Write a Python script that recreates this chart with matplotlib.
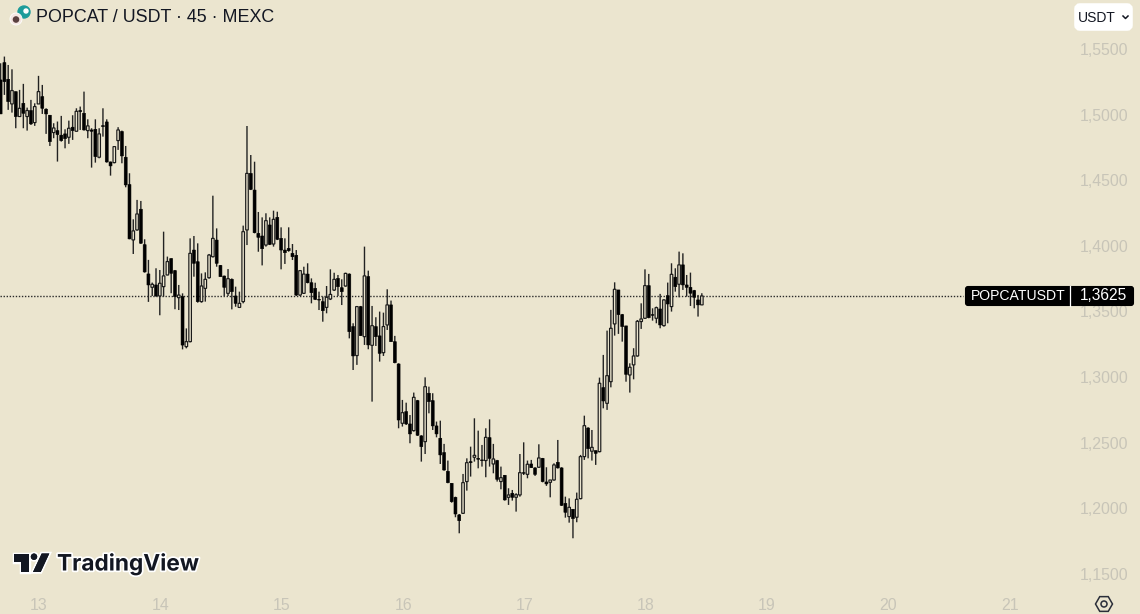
import matplotlib
matplotlib.use("Agg")
import matplotlib.pyplot as plt
import matplotlib.patheffects as pe
from matplotlib.patches import Circle, FancyBboxPatch, Polygon
import numpy as np

BG = "#EBE5CF"
GREY = "#C8C5B8"
INK = "#131722"

# 45 minute candles
opens = [
    1.5264, 1.5396, 1.5269, 1.5081, 1.5175, 1.4985, 1.5086, 1.4985, 1.5031, 1.4939,
    1.5081, 1.5137, 1.5041, 1.4995, 1.4863, 1.4878, 1.4843, 1.4853, 1.4827, 1.4904,
    1.4873, 1.5031, 1.5010, 1.4878, 1.4883, 1.4888, 1.4675, 1.4916, 1.4944, 1.4639,
    1.4634, 1.4802, 1.4871, 1.4675, 1.4467, 1.4045, 1.4121, 1.4279, 1.4009, 1.3786,
    1.3684, 1.3702, 1.3618, 1.3689, 1.3778, 1.3903, 1.3811, 1.3605, 1.3613, 1.3232,
    1.3270, 1.3968, 1.3879, 1.3575, 1.3676, 1.3757, 1.3917, 1.4044, 1.3851, 1.3770,
    1.3638, 1.3745, 1.3618, 1.3531, 1.3575, 1.4121, 1.4552, 1.4425, 1.4095, 1.4075,
    1.4006, 1.4159, 1.4014, 1.4217, 1.4057, 1.3968, 1.3981, 1.3943, 1.3928, 1.3625,
    1.3638, 1.3785, 1.3719, 1.3676, 1.3592, 1.3575, 1.3531, 1.3595, 1.3663, 1.3752,
    1.3681, 1.3694, 1.3785, 1.3385, 1.3164, 1.3537, 1.3308, 1.3766, 1.3242, 1.3385,
    1.3314, 1.3186, 1.3397, 1.3550, 1.3270, 1.3100, 1.2648, 1.2737, 1.2643, 1.2592,
    1.2821, 1.2552, 1.2508, 1.2877, 1.2821, 1.2628, 1.2534, 1.2425, 1.2282, 1.2191,
    1.2084, 1.1950, 1.1962, 1.2204, 1.2356, 1.2389, 1.2381, 1.2369, 1.2364, 1.2539,
    1.2338, 1.2364, 1.2204, 1.2252, 1.2084, 1.2115, 1.2084, 1.2102, 1.2272, 1.2259,
    1.2338, 1.2308, 1.2313, 1.2381, 1.2201, 1.2198, 1.2216, 1.2351, 1.2308, 1.2038,
    1.1937, 1.1993, 1.1932, 1.2074, 1.2394, 1.2612, 1.2435, 1.2440, 1.2432, 1.2920,
    1.2800, 1.2965, 1.3405, 1.3664, 1.3476, 1.3390, 1.3016, 1.3093, 1.3161, 1.3423,
    1.3448, 1.3697, 1.3476, 1.3448, 1.3519, 1.3392, 1.3621, 1.3537, 1.3761, 1.3707,
    1.3855, 1.3702, 1.3684, 1.3659, 1.3588, 1.3550,
]
highs = [
    1.5391, 1.5442, 1.5378, 1.5345, 1.5175, 1.5188, 1.5234, 1.5053, 1.5112, 1.5086,
    1.5295, 1.5226, 1.5048, 1.4997, 1.4934, 1.4947, 1.4990, 1.4888, 1.4954, 1.4995,
    1.5048, 1.5061, 1.5175, 1.4964, 1.4896, 1.4964, 1.4896, 1.5048, 1.4964, 1.4642,
    1.4756, 1.4904, 1.4878, 1.4761, 1.4553, 1.4202, 1.4350, 1.4342, 1.4050, 1.3893,
    1.3720, 1.3829, 1.3816, 1.4108, 1.3918, 1.3905, 1.3816, 1.3702, 1.3638, 1.3371,
    1.4057, 1.4075, 1.4019, 1.3790, 1.3798, 1.3938, 1.4382, 1.4133, 1.3854, 1.3773,
    1.3823, 1.3752, 1.3689, 1.3651, 1.4154, 1.4913, 1.4692, 1.4641, 1.4258, 1.4217,
    1.4248, 1.4217, 1.4268, 1.4260, 1.4141, 1.4057, 1.4141, 1.4014, 1.3968, 1.3816,
    1.3841, 1.3867, 1.3752, 1.3719, 1.3651, 1.3613, 1.3694, 1.3821, 1.3795, 1.3778,
    1.3745, 1.3795, 1.3790, 1.3410, 1.3542, 1.3542, 1.3994, 1.3811, 1.3542, 1.3456,
    1.3499, 1.3491, 1.3669, 1.3583, 1.3314, 1.3105, 1.2826, 1.2805, 1.2711, 1.2882,
    1.2826, 1.2557, 1.2998, 1.2927, 1.2877, 1.2661, 1.2668, 1.2491, 1.2364, 1.2191,
    1.2089, 1.1957, 1.2262, 1.2381, 1.2470, 1.2686, 1.2592, 1.2483, 1.2610, 1.2678,
    1.2491, 1.2369, 1.2318, 1.2254, 1.2153, 1.2140, 1.2115, 1.2414, 1.2503, 1.2364,
    1.2369, 1.2313, 1.2488, 1.2384, 1.2313, 1.2216, 1.2343, 1.2521, 1.2313, 1.2089,
    1.2076, 1.1995, 1.2120, 1.2407, 1.2706, 1.2618, 1.2597, 1.2440, 1.2996, 1.3169,
    1.3354, 1.3512, 1.3722, 1.3664, 1.3481, 1.3390, 1.3105, 1.3220, 1.3435, 1.3562,
    1.3821, 1.3786, 1.3524, 1.3537, 1.3634, 1.3593, 1.3720, 1.3867, 1.3829, 1.3956,
    1.3943, 1.3778, 1.3796, 1.3664, 1.3626, 1.3639,
]
lows = [
    1.5005, 1.5150, 1.5036, 1.5015, 1.4896, 1.4985, 1.4896, 1.4878, 1.4921, 1.4914,
    1.5081, 1.5005, 1.4853, 1.4761, 1.4820, 1.4642, 1.4794, 1.4743, 1.4777, 1.4807,
    1.4871, 1.4883, 1.4878, 1.4820, 1.4596, 1.4634, 1.4667, 1.4832, 1.4634, 1.4535,
    1.4629, 1.4731, 1.4629, 1.4446, 1.4050, 1.3938, 1.4116, 1.4015, 1.3796, 1.3573,
    1.3618, 1.3613, 1.3471, 1.3613, 1.3776, 1.3639, 1.3517, 1.3511, 1.3211, 1.3219,
    1.3265, 1.3765, 1.3567, 1.3567, 1.3575, 1.3750, 1.3912, 1.3841, 1.3765, 1.3618,
    1.3618, 1.3516, 1.3536, 1.3526, 1.3562, 1.4006, 1.4425, 1.4095, 1.3955, 1.3851,
    1.3994, 1.4006, 1.3994, 1.4044, 1.3821, 1.3862, 1.3955, 1.3892, 1.3618, 1.3618,
    1.3633, 1.3714, 1.3562, 1.3587, 1.3511, 1.3422, 1.3486, 1.3587, 1.3656, 1.3618,
    1.3549, 1.3689, 1.3295, 1.3054, 1.3093, 1.3314, 1.3245, 1.3212, 1.2813, 1.3237,
    1.3118, 1.3161, 1.3359, 1.3268, 1.3105, 1.2610, 1.2623, 1.2635, 1.2496, 1.2585,
    1.2552, 1.2356, 1.2414, 1.2724, 1.2597, 1.2541, 1.2338, 1.2287, 1.2191, 1.2043,
    1.1932, 1.1810, 1.1957, 1.2135, 1.2242, 1.2356, 1.2305, 1.2318, 1.2237, 1.2318,
    1.2267, 1.2204, 1.2145, 1.2059, 1.2026, 1.2059, 1.1975, 1.2089, 1.2254, 1.2229,
    1.2308, 1.2247, 1.2308, 1.2198, 1.2171, 1.2084, 1.2211, 1.2303, 1.2018, 1.1929,
    1.1891, 1.1772, 1.1894, 1.2069, 1.2369, 1.2381, 1.2364, 1.2331, 1.2427, 1.2762,
    1.2750, 1.2922, 1.3316, 1.3329, 1.3270, 1.2965, 1.2882, 1.2983, 1.3156, 1.3367,
    1.3443, 1.3448, 1.3430, 1.3410, 1.3372, 1.3385, 1.3410, 1.3499, 1.3651, 1.3608,
    1.3664, 1.3613, 1.3542, 1.3524, 1.3461, 1.3550,
]
closes = [
    1.5005, 1.5251, 1.5099, 1.5183, 1.4985, 1.5048, 1.5010, 1.5031, 1.4929, 1.5061,
    1.5175, 1.5048, 1.5005, 1.4794, 1.4898, 1.4848, 1.4802, 1.4817, 1.4896, 1.4878,
    1.5025, 1.5023, 1.4883, 1.4914, 1.4873, 1.4680, 1.4853, 1.4909, 1.4639, 1.4609,
    1.4756, 1.4883, 1.4685, 1.4464, 1.4053, 1.4114, 1.4243, 1.4020, 1.3801, 1.3702,
    1.3707, 1.3618, 1.3715, 1.3771, 1.3880, 1.3791, 1.3613, 1.3625, 1.3244, 1.3270,
    1.3943, 1.3867, 1.3575, 1.3694, 1.3745, 1.3930, 1.4057, 1.3867, 1.3765, 1.3684,
    1.3750, 1.3651, 1.3562, 1.3562, 1.4108, 1.4552, 1.4430, 1.4100, 1.4065, 1.3978,
    1.4192, 1.4011, 1.4202, 1.4050, 1.3968, 1.3948, 1.3963, 1.3917, 1.3625, 1.3811,
    1.3785, 1.3719, 1.3643, 1.3592, 1.3587, 1.3506, 1.3608, 1.3630, 1.3745, 1.3689,
    1.3651, 1.3790, 1.3346, 1.3161, 1.3537, 1.3316, 1.3771, 1.3245, 1.3392, 1.3308,
    1.3181, 1.3385, 1.3550, 1.3270, 1.3110, 1.2673, 1.2729, 1.2643, 1.2567, 1.2846,
    1.2557, 1.2470, 1.2927, 1.2813, 1.2628, 1.2567, 1.2407, 1.2292, 1.2196, 1.2051,
    1.1957, 1.1906, 1.2196, 1.2348, 1.2348, 1.2404, 1.2374, 1.2364, 1.2541, 1.2381,
    1.2376, 1.2221, 1.2234, 1.2064, 1.2102, 1.2084, 1.2104, 1.2272, 1.2267, 1.2336,
    1.2310, 1.2259, 1.2384, 1.2204, 1.2186, 1.2216, 1.2331, 1.2308, 1.2023, 1.1970,
    1.2008, 1.1922, 1.2069, 1.2394, 1.2630, 1.2455, 1.2465, 1.2419, 1.2953, 1.2818,
    1.3011, 1.3372, 1.3669, 1.3476, 1.3385, 1.3021, 1.3075, 1.3161, 1.3425, 1.3443,
    1.3697, 1.3453, 1.3471, 1.3529, 1.3397, 1.3588, 1.3557, 1.3783, 1.3689, 1.3855,
    1.3702, 1.3684, 1.3639, 1.3608, 1.3550, 1.3618,
]

day_labels = ["13", "14", "15", "16", "17", "18", "19", "20", "21"]
day_index = [10.1, 42.1, 74.2, 106.2, 138.2, 170.2, 202.2, 234.2, 266.3]
price_ticks = [1.15, 1.20, 1.25, 1.30, 1.35, 1.40, 1.45, 1.50, 1.55]
last_label = "1,3625"

fig = plt.figure(figsize=(11.4, 6.14), dpi=100, facecolor=BG)
plt.rcParams["font.family"] = ["Liberation Sans", "DejaVu Sans"]

ax = fig.add_axes([0, 0, 1, 1], facecolor=BG)
ax.set_xlim(-0.16, 300.6)
ax.set_ylim(1.1195, 1.5873)
for s in ax.spines.values():
    s.set_visible(False)

o = np.array(opens)
c = np.array(closes)
x = np.arange(len(o))
up = c >= o
body_top = np.maximum(o, c)
body_bot = np.minimum(o, c)

wicks = ax.vlines(x, lows, highs, color="#222222", lw=1.0, zorder=2)
wicks.set_snap(False)
down_bars = ax.bar(x[~up], (body_top - body_bot)[~up], bottom=body_bot[~up], width=0.78,
                   color="black", edgecolor="black", lw=0.4, zorder=3)
up_bars = ax.bar(x[up], (body_top - body_bot)[up], bottom=body_bot[up], width=0.68,
                 facecolor=BG, edgecolor="#1a1a1a", lw=0.85, zorder=3)
for b in list(down_bars) + list(up_bars):
    b.set_snap(False)

# dotted last price line
ax.plot([-0.16, 254], [closes[-1], closes[-1]], color="#2a2a2a", lw=1.0,
        dashes=(1, 1.2), zorder=1)

ax.yaxis.tick_right()
ax.set_yticks(price_ticks)
ax.set_yticklabels([f"{p:.4f}".replace(".", ",") for p in price_ticks])
ax.set_xticks(day_index)
ax.set_xticklabels(day_labels)
ax.tick_params(axis="y", direction="in", length=0, pad=-43.2, labelsize=11.4, labelcolor=GREY)
ax.tick_params(axis="x", direction="in", length=0, pad=-11.5, labelsize=11.4, labelcolor=GREY)
for t in ax.get_yticklabels():
    t.set_ha("left")

# overlay in pixels for header, logo and price label
ov = fig.add_axes([0, 0, 1, 1])
ov.set_xlim(0, 1140)
ov.set_ylim(614, 0)
ov.axis("off")
ov.patch.set_alpha(0)

ov.text(36, 18, "POPCAT / USDT \u00b7 45 \u00b7 MEXC", fontsize=12.9, color=INK, va="center", ha="left")
ov.add_patch(Circle((24, 12), 6, color="#1C9C9A"))
ov.add_patch(Circle((26, 11), 2, color="white"))
ov.add_patch(Circle((16, 19), 6, color="#F5E6E2", ec="white", lw=0.6))
ov.add_patch(Circle((16, 19.5), 2.6, color="#5A4040"))

ov.add_patch(FancyBboxPatch((1077, 6), 53, 22, boxstyle="round,pad=0,rounding_size=3",
                            facecolor="white", edgecolor="white", lw=4, zorder=3))
ov.text(1078, 17.5, "USDT", fontsize=10, color=INK, va="center", ha="left", zorder=4)
ov.plot([1123, 1125.5, 1128], [16, 18.5, 16], color=INK, lw=1.1, zorder=4)

ov.add_patch(FancyBboxPatch((966, 287), 167, 18, boxstyle="round,pad=0,rounding_size=2",
                            facecolor="black", edgecolor="black", lw=1.5, zorder=3))
ov.plot([1069.5, 1069.5], [286, 306], color="white", lw=0.9, zorder=4)
ov.text(971, 296, "POPCATUSDT", fontsize=10.1, color="white", va="center", ha="left", zorder=4)
ov.text(1127, 296, last_label, fontsize=11.2, color="white", va="center", ha="right", zorder=4)

# TradingView logo
halo = [pe.withStroke(linewidth=2.5, foreground="white")]
logo = [
    Polygon([(14, 553.5), (29, 553.5), (29, 572), (21, 572), (21, 562), (14, 562)], closed=True),
    Circle((34, 556.7), 3.2),
    Polygon([(41.7, 553.5), (49.3, 553.5), (40.7, 572), (33, 572)], closed=True),
]
for p in logo:
    p.set_facecolor(INK)
    p.set_edgecolor(INK)
    p.set_linewidth(0)
    p.set_path_effects(halo + [pe.Normal()])
    ov.add_patch(p)
ov.text(57, 564, "TradingView", fontsize=16.3, family="Inter", weight="bold", color=INK, va="center",
        ha="left", path_effects=[pe.withStroke(linewidth=2.5, foreground="white")])

# settings icon
hexa = [(1104 + 8.5 * np.cos(a), 604 + 8.5 * np.sin(a)) for a in np.arange(6) * np.pi / 3]
ov.add_patch(Polygon(hexa, closed=True, fill=False, edgecolor="#2A2E39", lw=1.1))
ov.add_patch(Circle((1104, 604), 3, fill=False, edgecolor="#2A2E39", lw=1.1))

fig.savefig("out.png", dpi=100, facecolor=BG)
